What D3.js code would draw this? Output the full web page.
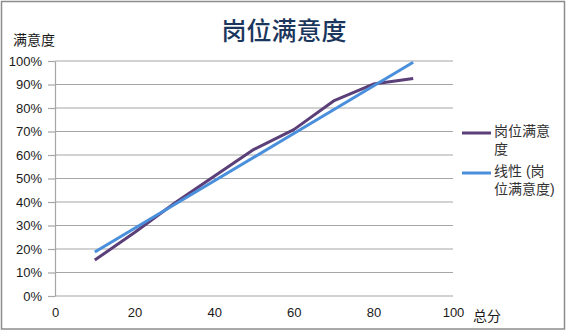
<!DOCTYPE html>
<html lang="zh">
<head>
<meta charset="UTF-8">
<title>岗位满意度</title>
<script src="https://d3js.org/d3.v7.min.js"></script>
<style>
  body { margin: 0; background: #fff; }
  text { font-family: "Liberation Sans", "Noto Sans CJK SC", sans-serif; fill: #1a1a1a; }
</style>
</head>
<body>
<div id="main"></div>
<script>
// 数据
var scores = [10, 20, 30, 40, 50, 60, 70, 80, 90]
var satisfaction = [0.153, 0.27, 0.395, 0.51, 0.624, 0.708, 0.83, 0.902, 0.926]
var xTicks = [0, 20, 40, 60, 80, 100]
var yTicks = [0, 0.1, 0.2, 0.3, 0.4, 0.5, 0.6, 0.7, 0.8, 0.9, 1.0]
var seriesNames = ['岗位满意度', '线性 (岗位满意度)']

var width = 567, height = 331
// 绘图区边界（不能用 top 当变量名，会和 window.top 冲突）
var plotL = 55, plotR = 453, plotT = 61, plotB = 296

var svg = d3.select('#main').append('svg')
    .attr('width', width)
    .attr('height', height)

// 外框
svg.append('rect')
    .attr('x', 1.5).attr('y', 1.5)
    .attr('width', width - 4).attr('height', height - 3.5)
    .attr('fill', '#fff')
    .attr('stroke', '#8c8c8c')
    .attr('stroke-width', 1.5)

var x = d3.scaleLinear().domain([0, 100]).range([plotL, plotR])
var y = d3.scaleLinear().domain([0, 1]).range([plotB, plotT])

// 网格线
svg.append('g').selectAll('line')
    .data(yTicks)
    .join('line')
    .attr('x1', plotL).attr('x2', plotR)
    .attr('y1', d => y(d)).attr('y2', d => y(d))
    .attr('stroke', '#a6a6a6')
    .attr('stroke-width', 1.2)

// y轴
var yAxis = svg.append('g')
    .attr('transform', `translate(${plotL},0)`)
    .call(d3.axisLeft(y).tickValues(yTicks).tickFormat(d3.format('.0%'))
        .tickSize(7).tickPadding(6).tickSizeOuter(0))
yAxis.select('.domain').attr('stroke', '#a6a6a6').attr('stroke-width', 1.2)
yAxis.selectAll('.tick line').attr('stroke', '#a6a6a6').attr('stroke-width', 1.2)
yAxis.selectAll('.tick text').style('font-size', '13px').attr('fill', '#1a1a1a')

// x轴（只有文字）
var xAxis = svg.append('g')
    .attr('transform', `translate(0,${plotB})`)
    .call(d3.axisBottom(x).tickValues(xTicks).tickSize(0).tickPadding(12))
xAxis.select('.domain').remove()
xAxis.selectAll('.tick text').style('font-size', '13px').attr('fill', '#1a1a1a')

// 标题和轴名
svg.append('text')
    .attr('x', 284).attr('y', 40)
    .attr('text-anchor', 'middle')
    .style('font-size', '25px').style('font-weight', '500')
    .style('fill', '#1b365d')
    .text('岗位满意度')

svg.append('text')
    .attr('x', 13).attr('y', 45)
    .style('font-size', '14px')
    .text('满意度')

svg.append('text')
    .attr('x', 473).attr('y', 321)
    .style('font-size', '14px')
    .text('总分')

// 折线
var pts = scores.map((s, i) => [s, satisfaction[i]])
var line = d3.line().x(d => x(d[0])).y(d => y(d[1]))

svg.append('path')
    .attr('d', line(pts))
    .attr('fill', 'none')
    .attr('stroke', '#5b3f78')
    .attr('stroke-width', 3)
    .attr('stroke-linejoin', 'round')

// 线性趋势线（最小二乘）
var mx = d3.mean(scores), my = d3.mean(satisfaction)
var slope = d3.sum(scores, (s, i) => (s - mx) * (satisfaction[i] - my)) /
    d3.sum(scores, s => (s - mx) * (s - mx))
var trend = d3.extent(scores).map(s => [s, my + slope * (s - mx)])

svg.append('path')
    .attr('d', line(trend))
    .attr('fill', 'none')
    .attr('stroke', '#4a8fdb')
    .attr('stroke-width', 3)

// 图例
var legend = [
    {color: '#5b3f78', y: 133, lines: ['岗位满意', '度']},
    {color: '#4a8fdb', y: 173, lines: ['线性 (岗', '位满意度)']}
]
var lg = svg.append('g').selectAll('g').data(legend).join('g')
lg.append('line')
    .attr('x1', 462).attr('x2', 491)
    .attr('y1', d => d.y).attr('y2', d => d.y)
    .attr('stroke', d => d.color)
    .attr('stroke-width', 3)
lg.append('text')
    .attr('y', d => d.y - 2)
    .style('font-size', '14px')
    .style('fill', '#333')
    .selectAll('tspan')
    .data(d => d.lines)
    .join('tspan')
    .attr('x', 494)
    .attr('dy', (d, i) => i === 0 ? '0.35em' : 18.5)
    .text(d => d)
</script>
</body>
</html>
